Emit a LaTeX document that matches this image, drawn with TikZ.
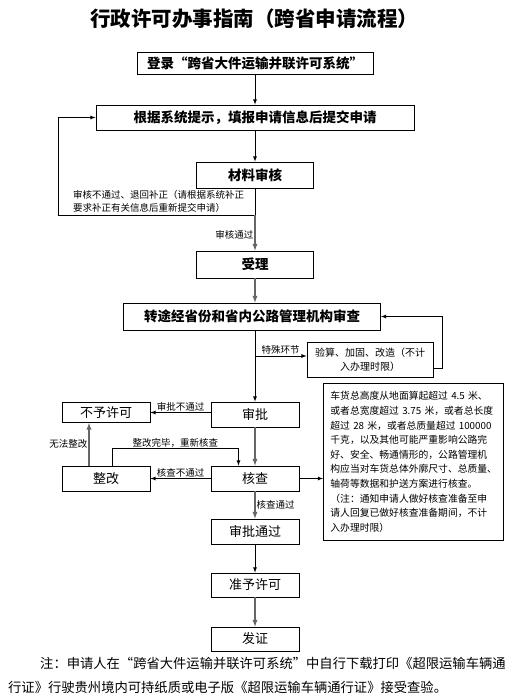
\documentclass[tikz,border=0pt]{standalone}
\usepackage{fontspec}
\newfontfamily\cjk{Noto Sans CJK SC}
\usetikzlibrary{positioning,arrows}
\tikzset{>=latex}

\begin{document}
\begin{tikzpicture}[x=1pt,y=-1pt,>=latex,
        box/.style={draw,line width=0.8pt,inner sep=0pt,font=\cjk\fontsize{13}{15}\selectfont},
        bbox/.style={box,font=\cjk\bfseries\fontsize{13.5}{15}\selectfont},
        lab/.style={inner sep=1pt,font=\cjk\fontsize{9.5}{13}\selectfont},
        line/.style={line width=0.8pt},
        gline/.style={line width=1.3pt,black!60}]
        \useasboundingbox (0,0) rectangle (519,699);
        % title
        \node[font=\cjk\bfseries\fontsize{20.5}{24}\selectfont] (title) at (254,19) {行政许可办事指南（跨省申请流程）};
        % main column
        \node[bbox,minimum width=236pt,minimum height=22pt] (login) at (255,63) {登录“跨省大件运输并联许可系统”};
        \node[bbox,minimum width=318pt,minimum height=25pt] (fill) at (255,117.5) {根据系统提示，填报申请信息后提交申请};
        \node[bbox,minimum width=117pt,minimum height=26pt] (check) at (255,175) {材料审核};
        \node[bbox,minimum width=117pt,minimum height=27pt] (accept) at (255,264.5) {受理};
        \node[bbox,minimum width=257pt,minimum height=27pt] (transfer) at (252,316.5) {转途经省份和省内公路管理机构审查};
        \node[box,lab,draw,line width=0.8pt,align=center,minimum width=126pt,minimum height=35pt,font=\cjk\fontsize{10}{14}\selectfont] (special) at (370,359.5) {验算、加固、改造（不计\\入办理时限）};
        \node[box,minimum width=88pt,minimum height=25pt] (approve) at (255,414.5) {审批};
        \node[box,minimum width=88pt,minimum height=20pt] (deny) at (106,412.5) {不予许可};
        \node[box,minimum width=88pt,minimum height=25pt] (rectify) at (106,478.5) {整改};
        \node[box,minimum width=88pt,minimum height=25pt] (verify) at (255,478.5) {核查};
        \node[box,minimum width=88pt,minimum height=25pt] (passed) at (255,531.5) {审批通过};
        \node[box,minimum width=88pt,minimum height=24pt] (grant) at (255,585) {准予许可};
        \node[box,minimum width=88pt,minimum height=24pt] (issue) at (255,639) {发证};
        % note on verification
        \node[draw,line width=0.8pt,anchor=north west,minimum width=180pt,minimum height=157pt,
              text width=166pt,inner xsep=7pt,align=left,font=\cjk\fontsize{9.8}{14.6}\selectfont] (note) at (323,383)
            {车货总高度从地面算起超过 4.5 米、\\或者总宽度超过 3.75 米，或者总长度\\超过 28 米，或者总质量超过 100000\\千克，以及其他可能严重影响公路完\\好、安全、畅通情形的，公路管理机\\构应当对车货总体外廓尺寸、总质量、\\轴荷等数据和护送方案进行核查。\\（注：通知申请人做好核查准备至申\\请人回复已做好核查准备期间，不计\\入办理时限）};
        % connectors
        \coordinate (ret) at (255,215);
        \coordinate (retL) at (58,215);
        \draw[line,->] (login) -- (fill);
        \draw[line,->] (fill) -- (check);
        \draw[line] (check.south) -- (ret);
        \draw[line,->] (ret) -- (retL) |- (fill.west);
        \node[lab,anchor=south west,align=left] (lback) at (72,214) {审核不通过、退回补正（请根据系统补正\\要求补正有关信息后重新提交申请）};
        \draw[gline,->] (ret) -- (accept.north) node[lab,pos=0.55,left,text=black] (lok) {审核通过};
        \draw[gline,->] (accept.south) -- (accept.south |- transfer.north);
        \coordinate (sp) at (255,356);
        \draw[line,->] (transfer.south -| sp) -- (approve.north);
        \draw[line,->] (sp) -- (sp -| special.west) node[lab,pos=0.1,above right] (lsp) {特殊环节};
        \draw[line,->] ([yshift=-8.5pt]special.east) -- ++(9,0) |- (transfer.east);
        \draw[line,->] (approve.west |- deny.east) -- (deny.east) node[lab,midway,above] (lno) {审批不通过};
        \draw[gline,->] (approve.south) -- (verify.north);
        \draw[line,->] (verify.west) -- (rectify.east) node[lab,midway,above] (lvno) {核查不通过};
        \draw[line,->] ([xshift=6pt]rectify.north) -- ++(0,-17) -| node[lab,pos=0.25,above] (lre) {整改完毕，重新核查} ([xshift=-16.5pt]verify.north);
        \draw[gline,->] ([xshift=-17pt]rectify.north) -- ([xshift=-17pt]deny.south) node[lab,midway,left,text=black] (lfail) {无法整改};
        \draw[line,->] (verify.east) -- (verify.east -| note.west);
        \draw[gline,->] (verify.south) -- (passed.north) node[lab,midway,right,text=black] (lvok) {核查通过};
        \draw[line,->] (passed) -- (grant);
        \draw[gline,->] (grant) -- (issue);
        % footnote
        \node[anchor=west,inner sep=0pt,font=\cjk\fontsize{13.3}{16}\selectfont] (foot1) at (40,663) {注：申请人在“跨省大件运输并联许可系统”中自行下载打印《超限运输车辆通};
        \node[anchor=west,inner sep=0pt,font=\cjk\fontsize{13.3}{16}\selectfont] (foot2) at (8,687) {行证》行驶贵州境内可持纸质或电子版《超限运输车辆通行证》接受查验。};
    \end{tikzpicture}
\end{document}
